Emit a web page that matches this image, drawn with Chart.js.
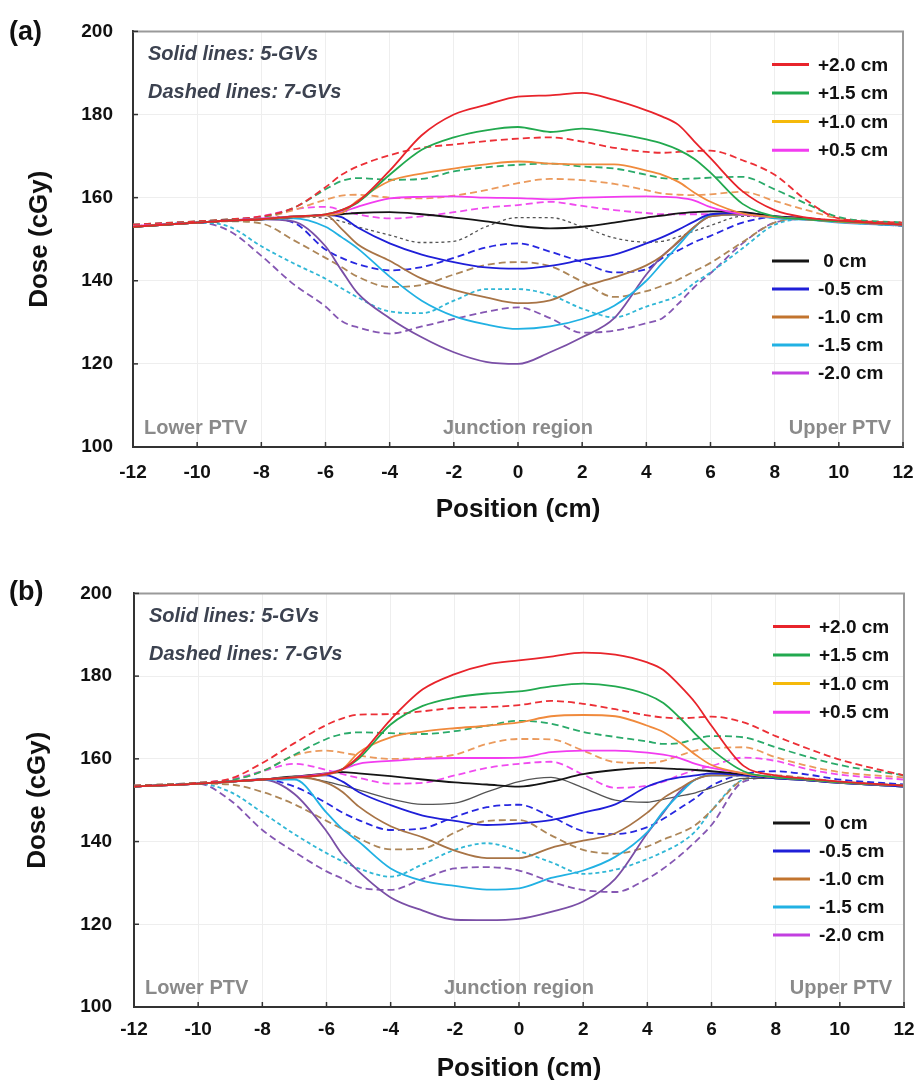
<!DOCTYPE html>
<html>
<head>
<meta charset="utf-8">
<title>Dose profiles across the junction</title>
<script src="https://cdn.jsdelivr.net/npm/chart.js@4.4.1/dist/chart.umd.min.js"></script>
<style>
    html, body { margin: 0; padding: 0; background: #fff; width: 919px; height: 1080px; overflow: hidden; }
    canvas { position: absolute; left: 0; }
    #chartA { top: 0; }
    #chartB { top: 560px; }
</style>
</head>
<body>
<canvas id="chartA" width="919" height="545"></canvas>
<canvas id="chartB" width="919" height="530"></canvas>
<script>
// positions (cm) shared by every profile
const positions = [-12, -10, -9, -8, -7, -6, -5.5, -5, -4, -3, -2, -1, 0, 1, 2, 3, 4, 4.5, 5, 5.5, 6, 7, 8, 9, 10, 12];

const offsetLabels = ['+2.0 cm', '+1.5 cm', '+1.0 cm', '+0.5 cm', ' 0 cm', '-0.5 cm', '-1.0 cm', '-1.5 cm', '-2.0 cm'];
const xTicks = [-12, -10, -8, -6, -4, -2, 0, 2, 4, 6, 8, 10, 12];
const yTicks = [100, 120, 140, 160, 180, 200];

// (a) 5-GVs, solid
const a5_p20 = [153, 154, 154.5, 154.8, 155.5, 156, 157, 159, 166.5, 175, 180, 182.3, 184.3, 184.6, 185.2, 183.5, 181, 179.5, 177.5, 173.5, 169.5, 161.5, 157, 155.2, 154.5, 153.5];
const a5_p15 = [153, 154, 154.5, 154.8, 155.5, 156, 157, 158.8, 165.5, 171.5, 174.5, 176.2, 177, 175.8, 176.6, 175.5, 174, 173, 171.5, 169.3, 166, 158.5, 155.5, 154.8, 154.3, 153.5];
const a5_p10 = [153, 154, 154.5, 154.8, 155.3, 155.8, 156.3, 159.3, 164, 165.8, 167, 168, 168.7, 168.2, 168, 168, 166.5, 165.5, 163.8, 161.2, 159, 156.2, 155.3, 154.8, 154.2, 153.5];
const a5_p05 = [153.2, 154, 154.5, 155, 155.5, 155.8, 156.5, 157.8, 159.8, 160.2, 160.3, 160, 159.9, 159.6, 160, 160.2, 160.3, 160.2, 160, 159.3, 157.7, 156, 155.3, 154.8, 154.2, 153.5];
const a5_0 = [153, 154, 154.5, 154.8, 155.3, 155.8, 156, 156.3, 156.5, 156, 155.2, 154.3, 153.2, 152.6, 153, 154, 155.2, 155.7, 156.2, 156.5, 156.7, 156.5, 155.5, 155, 154.3, 153.5];
const a5_m05 = [153, 154, 154.5, 154.8, 155.3, 155.8, 155.3, 152.8, 149, 146.3, 144.5, 143.2, 142.9, 143.6, 145, 146.3, 149, 150.5, 152.3, 154.3, 156, 156.3, 155.5, 155, 154.3, 153.5];
const a5_m10 = [153, 154, 154.5, 154.8, 155.3, 155.8, 152.5, 148.8, 144.8, 140.5, 137.8, 136, 134.6, 135.3, 138.5, 140.8, 143.7, 146, 149.5, 153, 155.5, 156, 155.5, 155, 154.3, 153.5];
const a5_m15 = [153, 154, 154.5, 154.8, 155, 153, 150.5, 147.8, 141, 135.2, 131.5, 129.5, 128.4, 129, 130.8, 134, 140, 144.3, 148.5, 152.8, 155.8, 156, 155, 154.7, 154, 153.3];
const a5_m20 = [153, 154, 154.5, 154.8, 154.3, 148.3, 142.5, 137, 131, 126.4, 122.8, 120.5, 120, 122.8, 126.4, 131, 141.5, 146, 149.3, 153, 155.5, 156, 155.3, 154.8, 154.2, 153.3];

// (a) 7-GVs, dashed
const a7_p20 = [153.5, 154.3, 154.8, 155.5, 157.5, 162.5, 165.5, 167.5, 170.2, 172, 172.8, 173.6, 174.2, 174.5, 173.5, 172, 171, 170.8, 171, 171.2, 171.3, 169, 165.5, 159.3, 155, 154];
const a7_p15 = [153.5, 154.3, 154.8, 155.3, 157.5, 162, 164, 164.7, 164.3, 164.5, 166.3, 167.3, 167.9, 168.2, 167.5, 167, 165.5, 164.7, 164.5, 164.6, 164.8, 165, 162, 158.5, 155.3, 154];
const a7_p10 = [153.5, 154.2, 154.6, 155, 157, 159.5, 160.5, 160.7, 160, 159.8, 160.5, 161.8, 163.5, 164.5, 164.2, 163.3, 161.8, 161, 160.7, 160.6, 160.8, 161.4, 159.2, 157, 155, 153.8];
const a7_p05 = [153.5, 154.2, 154.7, 155.5, 157.2, 157.8, 157, 156, 155, 155.5, 156.5, 157.6, 158.2, 159, 158, 157, 156.3, 156, 156, 156, 156, 155.8, 155.3, 154.8, 154.3, 153.5];
const a7_0 = [153.2, 154, 154.5, 155, 155.5, 155, 154.3, 153, 151, 149.2, 149.5, 153, 155.2, 155.2, 153, 150.3, 149.3, 149.5, 150.6, 152, 153.3, 155.5, 155.3, 154.8, 154.2, 153.5];
const a7_m05 = [153.2, 154, 154.5, 155, 154, 147.5, 145.5, 144, 142.5, 143.3, 145.5, 148, 149, 147, 144.5, 142, 142.8, 145.5, 147.3, 149.3, 150.8, 154, 155.3, 155, 154.3, 153.3];
const a7_m10 = [153.2, 154, 154.3, 153.8, 149.8, 145.5, 143.3, 141, 138.5, 139, 141.5, 143.8, 144.5, 143.5, 139.8, 136.1, 137.5, 138.8, 140.3, 142.3, 144.3, 149.3, 154, 155, 154.3, 153.3];
const a7_m15 = [153, 154, 153, 148.3, 144.2, 140.5, 138.2, 136, 132.6, 132.2, 135.2, 138, 138, 136.6, 133.3, 131.2, 133.8, 135, 136.5, 139.5, 142, 147.8, 153.5, 154.8, 154.2, 153.2];
const a7_m20 = [153, 154, 152, 146, 139.2, 133.8, 130.3, 128.8, 127.3, 129, 130.8, 132.5, 133.6, 131, 127.5, 128, 129.8, 131, 134.5, 138.5, 141.8, 149, 154, 154.8, 154.2, 153.2];

// (b) 5-GVs, solid
const b5_p20 = [153.3, 154, 154.5, 155, 155.5, 156.3, 157.5, 160.5, 169.5, 176.8, 180.5, 182.8, 183.8, 184.7, 185.7, 185.2, 183.3, 181.5, 177.8, 173.5, 168, 158.3, 156, 155.2, 154.5, 153.5];
const b5_p15 = [153.3, 154, 154.5, 155, 155.5, 156.3, 157.5, 160, 168.3, 172.8, 174.8, 175.8, 176.3, 177.5, 178.2, 177.5, 175.5, 173.5, 170, 166, 162.3, 157, 155.5, 155, 154.3, 153.5];
const b5_p10 = [153.3, 154, 154.5, 155, 155.5, 156.2, 157.5, 161.5, 165.2, 166.6, 167.4, 168, 168.8, 170.3, 170.6, 170.3, 168, 166.5, 164, 161, 158.5, 156.5, 155.5, 155, 154.3, 153.5];
const b5_p05 = [153.3, 154, 154.5, 155, 155.6, 156.5, 157.5, 158.8, 159.5, 160, 160.2, 160.2, 160.3, 161.6, 162, 162, 161.5, 161, 160.2, 158.8, 157.8, 156.5, 155.5, 155, 154.3, 153.5];
const b5_0 = [153.3, 154, 154.5, 155, 155.7, 156.5, 156.8, 156.5, 155.8, 155, 154.3, 153.8, 153.3, 154.5, 156.3, 157.3, 157.8, 157.7, 157.5, 157.3, 157, 156.3, 155.5, 155, 154.3, 153.5];
const b5_m05 = [153.3, 154, 154.5, 155, 155.5, 156, 154.5, 152, 148.8, 146.3, 145, 144, 144.4, 145.2, 147, 149, 153.3, 154.7, 155.5, 156, 156.5, 156, 155.3, 154.8, 154.2, 153.3];
const b5_m10 = [153.3, 154, 154.5, 155, 155.5, 154.2, 152, 148.5, 143.7, 141, 137.8, 136, 136, 138.5, 140.2, 142, 147, 150.5, 152.8, 155, 156, 156, 155.3, 154.8, 154.2, 153.3];
const b5_m15 = [153.3, 154, 154.5, 155, 155, 147, 143, 140, 133.5, 130.5, 129.3, 128.4, 128.7, 131.2, 133, 136.3, 142.3, 147.3, 151.5, 155, 156, 156, 155.3, 154.8, 154.2, 153.3];
const b5_m20 = [153.3, 154, 154.5, 155, 151.5, 142.5, 136.8, 132.8, 126.5, 123.3, 121.1, 121, 121.3, 123, 125.5, 131, 142, 147, 152, 155, 156, 156, 155.3, 154.8, 154.2, 153.3];

// (b) 7-GVs, dashed
const b7_p20 = [153.5, 154.2, 155.2, 159, 163.8, 168.2, 169.8, 170.7, 170.8, 171.5, 172.3, 172.5, 173, 174, 173.3, 172, 170.5, 170, 169.8, 170, 170.2, 168.8, 165.5, 162.5, 159.8, 156];
const b7_p15 = [153.5, 154.2, 154.8, 157, 161, 164.8, 166, 166.4, 166.2, 166, 166.7, 168, 169.2, 168.5, 166.5, 165.3, 164.2, 163.6, 163.8, 164.8, 165.5, 165.2, 162.8, 160.5, 158.5, 156];
const b7_p10 = [153.5, 154.2, 154.8, 157, 160.8, 162, 161.5, 160.8, 160, 160.2, 161, 163.6, 164.8, 164.7, 162, 159.2, 159, 159.5, 160.8, 162, 162.5, 162.8, 160.4, 158.3, 156.8, 155.5];
const b7_p05 = [153.5, 154.2, 155, 157, 158.8, 157.3, 156.3, 155.4, 154, 154.2, 156, 157.8, 158.8, 159.3, 156.2, 153, 153.5, 154.5, 156, 157.3, 158.3, 160.3, 159.5, 157.5, 156.2, 155];
const b7_0 = [153.3, 154, 154.5, 155, 155.8, 154.5, 153.5, 152.5, 150.3, 149, 149.3, 152, 154.5, 155.5, 153, 150, 149.5, 150.2, 151, 151.8, 153, 155.3, 155.3, 154.8, 154.3, 153.5];
const b7_m05 = [153.3, 154, 154.5, 155, 153.3, 149.3, 147, 145.2, 142.8, 143.2, 146, 148.3, 148.9, 146, 142.5, 141.8, 143.5, 145.5, 148, 150.5, 153.5, 156.3, 157, 156.2, 155, 153.8];
const b7_m10 = [153.3, 154, 153.8, 152, 149, 145, 143, 140.8, 138.1, 138.3, 142.2, 145, 145.2, 141.5, 138, 137.1, 138.8, 140.5, 142, 144, 147.5, 155, 156, 155.3, 154.5, 153.5];
const b7_m15 = [153.3, 154, 152, 147, 141.8, 137.2, 135.2, 133.5, 131.5, 134.5, 138, 139.6, 137.7, 135, 132.2, 133.2, 135.8, 137.5, 139.5, 142.5, 147.5, 155, 155.8, 155, 154.3, 153.3];
const b7_m20 = [153.3, 154, 150, 142.8, 137.5, 132.8, 131, 129, 128.3, 131, 133.5, 133.8, 133, 130.3, 128.3, 127.8, 131, 133.5, 136.5, 140, 144, 154.5, 155.5, 155, 154.3, 153.3];

const solidColors = ['#e8242b', '#22a94f', '#f08a3c', '#f23cf0', '#151515', '#1f1fd8', '#a87446', '#21b1e3', '#7a4fa6'];
const dashedColors = ['#ec2f36', '#2aaa6a', '#eb9a5c', '#f04bef', '#555555', '#2727e0', '#ad8658', '#30b7d6', '#8557b3'];
const legendColors = ['#e8242b', '#22a94f', '#f5b90a', '#f23cf0', '#151515', '#1f1fd8', '#c2742e', '#21b1e3', '#c23fe0'];

const FONT = '"Liberation Sans", Arial, sans-serif';

function toPoints(vals) {
    return vals.map((v, i) => ({ x: positions[i], y: v }));
}

function buildDatasets(solid, dashed, zeroSolid) {
    const sets = [];
    // solid first so they are painted on top
    solid.forEach((vals, i) => {
        sets.push({
            label: offsetLabels[i].trim() + ' (5-GVs)',
            data: toPoints(vals),
            borderColor: solidColors[i],
            borderWidth: 1.8
        });
    });
    dashed.forEach((vals, i) => {
        let dash = [7, 4];
        let width = 1.8;
        if (i === 4) {
            dash = zeroSolid ? [] : [3, 3];
            width = 1.3;
        } else if (i === 7) {
            dash = [4, 3];
        }
        sets.push({
            label: offsetLabels[i].trim() + ' (7-GVs)',
            data: toPoints(vals),
            borderColor: dashedColors[i],
            borderWidth: width,
            borderDash: dash
        });
    });
    return sets;
}

const panelDecor = {
    id: 'panelDecor',
    afterDraw(chart, args, opts) {
        const { ctx, chartArea: area, scales } = chart;
        const xs = scales.x, ys = scales.y;
        ctx.save();

        // light frame on top and right
        ctx.strokeStyle = '#9a9a9a';
        ctx.lineWidth = 2;
        ctx.beginPath();
        ctx.moveTo(area.left, area.top);
        ctx.lineTo(area.right, area.top);
        ctx.lineTo(area.right, area.bottom);
        ctx.stroke();

        // inward tick marks
        ctx.strokeStyle = '#333';
        ctx.lineWidth = 1.5;
        xs.ticks.forEach(t => {
            const px = xs.getPixelForValue(t.value);
            ctx.beginPath();
            ctx.moveTo(px, area.bottom);
            ctx.lineTo(px, area.bottom - 5);
            ctx.stroke();
        });
        ys.ticks.forEach(t => {
            const py = ys.getPixelForValue(t.value);
            ctx.beginPath();
            ctx.moveTo(area.left, py);
            ctx.lineTo(area.left + 5, py);
            ctx.stroke();
        });

        ctx.textBaseline = 'middle';

        // panel letter
        ctx.fillStyle = '#111';
        ctx.font = 'bold 27px ' + FONT;
        ctx.textAlign = 'left';
        ctx.fillText(opts.letter, 9, area.top + opts.letterDy);

        // line style notes
        ctx.fillStyle = '#3c4250';
        ctx.font = 'italic bold 20px ' + FONT;
        ctx.fillText('Solid lines: 5-GVs', area.left + 15, area.top + 23);
        ctx.fillText('Dashed lines: 7-GVs', area.left + 15, area.top + 61);

        // region names
        ctx.fillStyle = '#8a8a8a';
        ctx.font = 'bold 20px ' + FONT;
        ctx.fillText('Lower PTV', area.left + 11, area.bottom - 19);
        ctx.textAlign = 'center';
        ctx.fillText('Junction region', xs.getPixelForValue(0), area.bottom - 19);
        ctx.textAlign = 'right';
        ctx.fillText('Upper PTV', area.right - 12, area.bottom - 19);

        // legend, two groups
        ctx.textAlign = 'left';
        ctx.font = 'bold 19px ' + FONT;
        ctx.lineWidth = 3;
        offsetLabels.forEach((lbl, i) => {
            const rowY = i < 4 ? area.top + 33 + i * 28.6 : area.top + 229.5 + (i - 4) * 28;
            ctx.strokeStyle = legendColors[i];
            ctx.beginPath();
            ctx.moveTo(area.right - 131, rowY);
            ctx.lineTo(area.right - 94, rowY);
            ctx.stroke();
            ctx.fillStyle = '#111';
            ctx.fillText(lbl, area.right - 85, rowY + 1);
        });

        ctx.restore();
    }
};

function makePanel(canvasId, datasets, box) {
    const ctx = document.getElementById(canvasId).getContext('2d');
    return new Chart(ctx, {
        type: 'line',
        data: { datasets: datasets },
        options: {
            responsive: false,
            animation: false,
            devicePixelRatio: 1,
            layout: { padding: { top: box.top, right: box.right, bottom: 0, left: 0 } },
            elements: {
                point: { radius: 0 },
                line: { cubicInterpolationMode: 'monotone', fill: false }
            },
            plugins: {
                legend: { display: false },
                tooltip: { enabled: false },
                panelDecor: { letter: box.letter, letterDy: box.letterDy }
            },
            scales: {
                x: {
                    type: 'linear',
                    min: xTicks[0],
                    max: xTicks[xTicks.length - 1],
                    afterFit: s => {
                        s.height = box.xHeight;
                        // end labels may overhang; the layout padding already leaves room
                        s.paddingLeft = 0;
                        s.paddingRight = 0;
                    },
                    afterBuildTicks: s => { s.ticks = xTicks.map(v => ({ value: v })); },
                    ticks: {
                        color: '#111',
                        padding: box.xTickPad,
                        maxRotation: 0,
                        font: { family: FONT, size: 19, weight: 'bold' }
                    },
                    grid: { color: '#eeeeee', drawTicks: false },
                    border: { color: '#333', width: 2 },
                    title: {
                        display: true,
                        text: 'Position (cm)',
                        color: '#111',
                        font: { family: FONT, size: 26, weight: 'bold' },
                        padding: { top: 0, bottom: box.xTitlePad }
                    }
                },
                y: {
                    min: yTicks[0],
                    max: yTicks[yTicks.length - 1],
                    afterFit: s => { s.width = box.yWidth; },
                    afterBuildTicks: s => { s.ticks = yTicks.map(v => ({ value: v })); },
                    ticks: {
                        color: '#111',
                        padding: box.yTickPad,
                        font: { family: FONT, size: 19, weight: 'bold' }
                    },
                    grid: { color: '#eeeeee', drawTicks: false },
                    border: { color: '#333', width: 2 },
                    title: {
                        display: true,
                        text: 'Dose (cGy)',
                        color: '#111',
                        font: { family: FONT, size: 26, weight: 'bold' },
                        padding: { top: box.yTitlePad, bottom: 0 }
                    }
                }
            }
        },
        plugins: [panelDecor]
    });
}

makePanel('chartA',
    buildDatasets(
        [a5_p20, a5_p15, a5_p10, a5_p05, a5_0, a5_m05, a5_m10, a5_m15, a5_m20],
        [a7_p20, a7_p15, a7_p10, a7_p05, a7_0, a7_m05, a7_m10, a7_m15, a7_m20],
        false),
    { letter: '(a)', letterDy: 1, top: 29, right: 16, xHeight: 98, yWidth: 133,
      xTickPad: 14, yTickPad: 20, xTitlePad: 20, yTitlePad: 24 });

makePanel('chartB',
    buildDatasets(
        [b5_p20, b5_p15, b5_p10, b5_p05, b5_0, b5_m05, b5_m10, b5_m15, b5_m20],
        [b7_p20, b7_p15, b7_p10, b7_p05, b7_0, b7_m05, b7_m10, b7_m15, b7_m20],
        true),
    { letter: '(b)', letterDy: -1, top: 27, right: 15, xHeight: 83, yWidth: 134,
      xTickPad: 11, yTickPad: 22, xTitlePad: 6, yTitlePad: 22 });
</script>
</body>
</html>
